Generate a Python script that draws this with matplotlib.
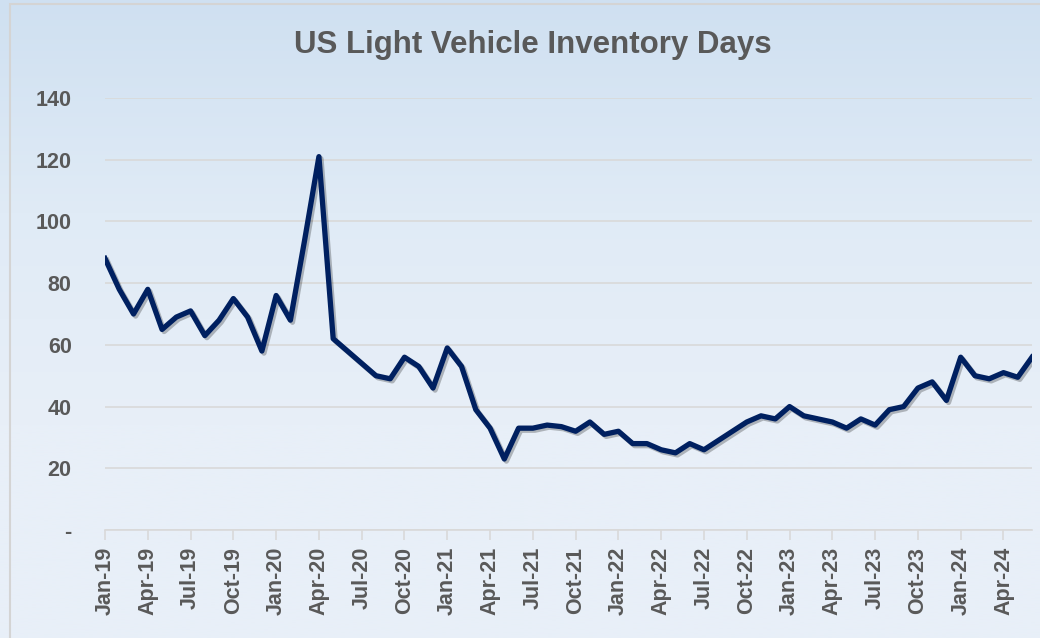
import numpy as np
import matplotlib
matplotlib.use("Agg")
import matplotlib.pyplot as plt
import matplotlib.patheffects as pe
from matplotlib.patches import Rectangle

# Monthly inventory days, Jan-19 .. Jun-24
months = [f"{m}-{y}" for y in range(19, 25)
          for m in ["Jan", "Feb", "Mar", "Apr", "May", "Jun",
                    "Jul", "Aug", "Sep", "Oct", "Nov", "Dec"]][:66]
days = [88, 78, 70, 78, 65, 69, 71, 63, 68, 75, 69, 58,
        76, 68, 94, 121, 62, 58, 54, 50, 49, 56, 53, 46,
        59, 53, 39, 33, 23, 33, 33, 34, 33.5, 32, 35, 31,
        32, 28, 28, 26, 25, 28, 26, 29, 32, 35, 37, 36,
        40, 37, 36, 35, 33, 36, 34, 39, 40, 46, 48, 42,
        56, 50, 49, 51, 49.5, 56]
yticks = [0, 20, 40, 60, 80, 100, 120, 140]
ytick_labels = ["-", "20", "40", "60", "80", "100", "120", "140"]

plt.rcParams['font.family'] = ['Liberation Sans', 'DejaVu Sans']
grey = "#595959"

fig = plt.figure(figsize=(10.4, 6.38), dpi=100)

# gradient background, darker at the top
bg = fig.add_axes([0, 0, 1, 1], zorder=-10)
grad = np.linspace(0, 1, 256).reshape(-1, 1)
cmap = matplotlib.colors.LinearSegmentedColormap.from_list(
    "bg", ["#cfe0f1", "#e0ebf6", "#e8eff8", "#e8eff8"])
bg.imshow(grad, aspect="auto", cmap=cmap, extent=[0, 1, 0, 1])
bg.set_xlim(0, 1)
bg.set_ylim(0, 1)
bg.axis("off")
fig.patches.append(Rectangle((10 / 1040, -0.01), 1.02, 1 - 3.5 / 638 + 0.01,
                             transform=fig.transFigure, fill=False,
                             edgecolor="#d4d4d4", lw=1.5))

ax = fig.add_axes([105 / 1040, 108 / 638, 927 / 1040, 432 / 638])
ax.patch.set_alpha(0)

x = np.arange(len(days))
ax.plot(x, days, color="#002060", lw=3.8, solid_joinstyle="round",
        path_effects=[pe.SimpleLineShadow(offset=(1.5, -1.5), alpha=0.25),
                      pe.Normal()])

ax.set_xlim(0, len(days) - 1)
ax.set_ylim(0, 140)
ax.set_yticks(yticks)
ax.set_yticklabels(ytick_labels)
ax.grid(axis="y", color="#d9d9d9", lw=1.2)
ax.set_axisbelow(True)

ax.set_xticks(x[::3])
ax.set_xticklabels(months[::3], rotation=90)

for s in ["top", "right", "left"]:
    ax.spines[s].set_visible(False)
ax.spines["bottom"].set_color("#d9d9d9")
ax.spines["bottom"].set_linewidth(1.2)

ax.tick_params(axis="y", length=0, pad=24, labelsize=15.5, labelcolor=grey)
ax.tick_params(axis="x", length=7, width=1.2, color="#d9d9d9", pad=5,
               labelsize=15.5, labelcolor=grey)
for lab in ax.get_xticklabels() + ax.get_yticklabels():
    lab.set_fontweight("bold")

fig.text(533 / 1040, 1 - 45 / 638, "US Light Vehicle Inventory Days",
         ha="center", va="center", fontsize=22.5, fontweight="bold", color=grey)

fig.savefig("out.png", dpi=100)
